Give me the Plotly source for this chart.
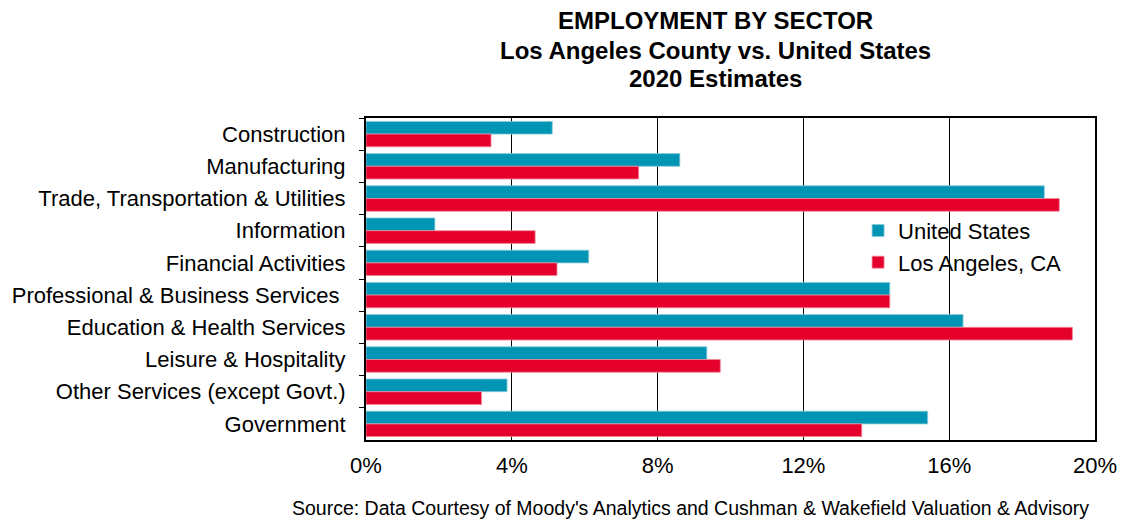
import plotly.graph_objects as go

categories = [
    "Construction",
    "Manufacturing",
    "Trade, Transportation & Utilities",
    "Information",
    "Financial Activities",
    "Professional & Business Services\u00a0",
    "Education & Health Services",
    "Leisure & Hospitality",
    "Other Services (except Govt.)",
    "Government",
]
us_values = [5.11, 8.61, 18.61, 1.89, 6.11, 14.37, 16.38, 9.35, 3.87, 15.41]
la_values = [3.43, 7.48, 19.02, 4.64, 5.24, 14.37, 19.38, 9.72, 3.17, 13.60]
x_ticks = [0, 4, 8, 12, 16, 20]
x_tick_labels = ["0%", "4%", "8%", "12%", "16%", "20%"]
title_lines = [
    "EMPLOYMENT BY SECTOR",
    "Los Angeles County vs. United States",
    "2020 Estimates",
]
source_text = "Source: Data Courtesy of Moody's Analytics and Cushman & Wakefield Valuation & Advisory"

FONT = "Liberation Sans, Arial, sans-serif"
US_COLOR = "#0095B4"
LA_COLOR = "#E4002B"

fig = go.Figure()
fig.add_trace(go.Bar(
    y=categories, x=us_values, orientation="h", name="United States",
    marker=dict(color=US_COLOR, line=dict(color="#8ccbdb", width=0.8)),
))
fig.add_trace(go.Bar(
    y=categories, x=la_values, orientation="h", name="Los Angeles, CA",
    marker=dict(color=LA_COLOR, line=dict(color="#f28a9c", width=0.8)),
))

H_PLOT = 322.0
title_y_px = [21, 50, 78]
annotations = []
for line, ypx in zip(title_lines, title_y_px):
    annotations.append(dict(
        text="<b>" + line + "</b>",
        xref="paper", yref="paper", x=0.48, y=(440 - ypx) / H_PLOT,
        xanchor="center", yanchor="middle", showarrow=False,
        font=dict(family=FONT, size=24, color="black"),
    ))
annotations.append(dict(
    text=source_text,
    xref="paper", yref="paper", x=0.4447, y=(440 - 508) / H_PLOT,
    xanchor="center", yanchor="middle", showarrow=False,
    font=dict(family=FONT, size=19.5, color="black"),
))

fig.update_layout(
    width=1129, height=519,
    margin=dict(l=365, r=31, t=118, b=79, pad=0),
    paper_bgcolor="white", plot_bgcolor="white",
    font=dict(family=FONT, size=22, color="black"),
    barmode="group", bargap=0.21, bargroupgap=0,
    showlegend=True,
    legend=dict(
        x=0.675, y=0.715, xanchor="left", yanchor="top",
        bgcolor="rgba(0,0,0,0)", borderwidth=0,
        font=dict(family=FONT, size=22, color="black"),
        itemwidth=30, tracegroupgap=0,
    ),
    xaxis=dict(
        range=[0, 20], tickvals=x_ticks, ticktext=x_tick_labels,
        showgrid=True, gridcolor="black", gridwidth=1,
        showline=True, linecolor="black", linewidth=2, mirror=True,
        ticks="", zeroline=False, ticklabelstandoff=5,
        tickfont=dict(family=FONT, size=22, color="black"),
    ),
    yaxis=dict(
        autorange="reversed", type="category",
        showline=True, linecolor="black", linewidth=2, mirror=True,
        ticks="outside", ticklen=5, tickcolor="black", tickwidth=1,
        tickson="boundaries", showgrid=False, ticklabelstandoff=14,
        tickfont=dict(family=FONT, size=22, color="black"),
    ),
    annotations=annotations,
)

fig.write_html(
    "out.html",
    config={"displayModeBar": False},
    post_script="document.body.style.margin='0';",
)
